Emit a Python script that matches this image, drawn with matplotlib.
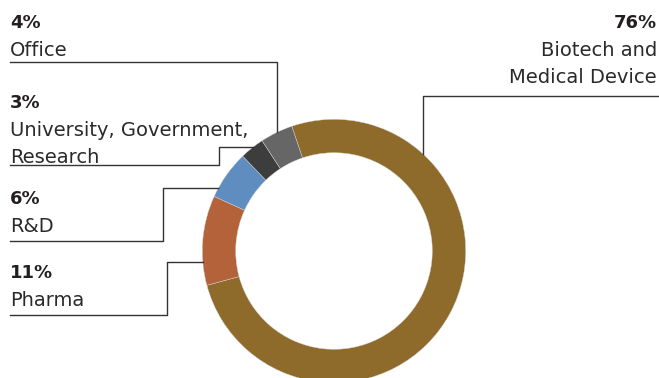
import numpy as np
import matplotlib.pyplot as plt

# segment shares, in drawing order (clockwise from the top)
sectors = ["Biotech and\nMedical Device", "Pharma", "R&D",
           "University, Government,\nResearch", "Office"]
shares = [76, 11, 6, 3, 4]
colors = ["#8E6A2B", "#B4623A", "#5F8DC0", "#3D3D3D", "#666666"]

W, H = 659, 378
cx, cy, R = 334, H - 251, 131.7
ring = 33.4
start = 108.7

TXT = "#231F20"
LINE = "#333333"
FONT = "DejaVu Sans"

fig = plt.figure(figsize=(W / 100, H / 100), dpi=100)
ax = fig.add_axes([0, 0, 1, 1])

ax.pie(shares, colors=colors, startangle=start, counterclock=False,
       radius=R, center=(cx, cy), frame=True,
       wedgeprops=dict(width=ring, edgecolor="#d8d8d8", linewidth=0.3))
ax.set_xlim(0, W)
ax.set_ylim(0, H)
ax.axis("off")


def on_ring_x(y):
    # left-hand x where a horizontal line at y meets the outer edge
    return cx - np.sqrt(R ** 2 - (y - cy) ** 2)


def on_ring_y(x):
    # upper y where a vertical line at x meets the outer edge
    return cy + np.sqrt(R ** 2 - (x - cx) ** 2)


def label(x, y_top, pct, name, ha="left"):
    ax.text(x, H - y_top, f"{pct}%", ha=ha, va="baseline", color=TXT,
            fontsize=13, fontweight="bold", family=FONT)
    for i, line in enumerate(name.split("\n")):
        ax.text(x, H - (y_top + 27.5 * (i + 1)), line, ha=ha, va="baseline",
                color="#2a2a2a", fontsize=14, family=FONT)


lw = 1.0
# Office
label(10, 28, shares[4], sectors[4])
ax.plot([10, 277, 277], [H - 62, H - 62, on_ring_y(277)], color=LINE, lw=lw)
# University, Government, Research
label(10, 108, shares[3], sectors[3])
ax.plot([10, 219, 219, on_ring_x(H - 147)], [H - 165, H - 165, H - 147, H - 147],
        color=LINE, lw=lw)
# R&D
label(10, 204, shares[2], sectors[2])
ax.plot([10, 163, 163, on_ring_x(H - 188)], [H - 241, H - 241, H - 188, H - 188],
        color=LINE, lw=lw)
# Pharma
label(10, 278, shares[1], sectors[1])
ax.plot([10, 167, 167, on_ring_x(H - 262)], [H - 315, H - 315, H - 262, H - 262],
        color=LINE, lw=lw)
# Biotech and Medical Device
label(657, 28, shares[0], sectors[0], ha="right")
ax.plot([W, 423, 423], [H - 96, H - 96, on_ring_y(423)], color=LINE, lw=lw)

fig.savefig("out.png", dpi=100, facecolor="white")
